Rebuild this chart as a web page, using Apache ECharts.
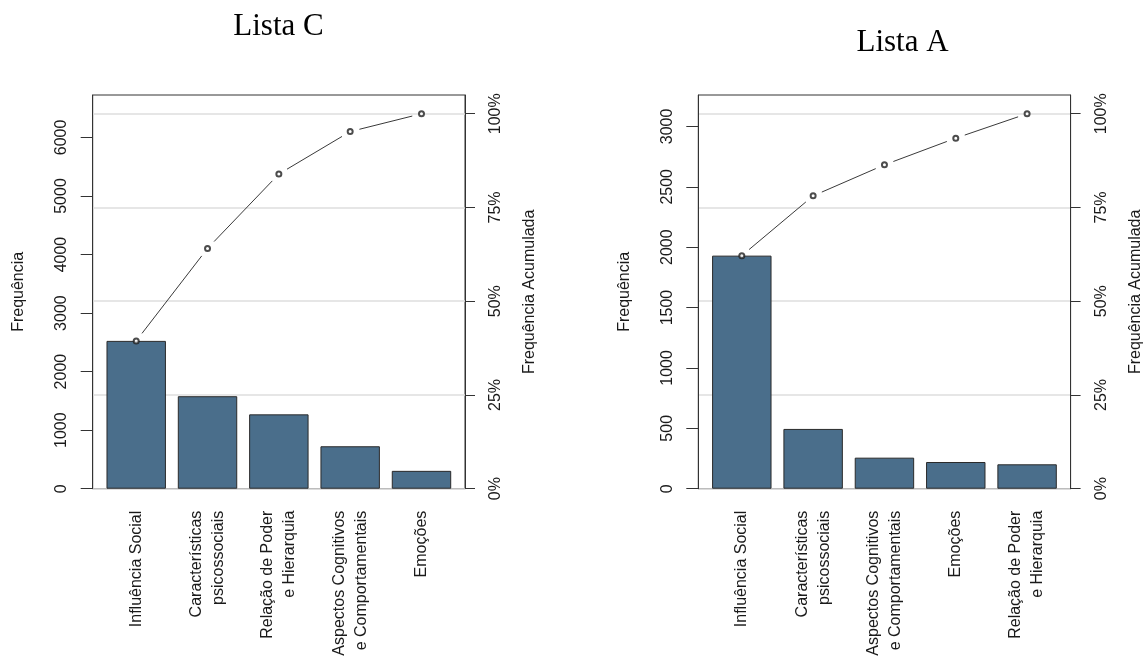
<!DOCTYPE html>
<html>
<head>
<meta charset="utf-8">
<title>Pareto – Listas C e A</title>
<script src="https://cdn.jsdelivr.net/npm/echarts@6/dist/echarts.min.js"></script>
<style>
  html, body { margin: 0; padding: 0; background: #ffffff; }
  #chart { width: 1144px; height: 670px; }
</style>
</head>
<body>
<div id="chart"></div>
<script>
// ---- data -------------------------------------------------------------
const panelTitles = ['Lista C', 'Lista A'];

const categoriesC = [
  'Influência Social',
  'Características\npsicossociais',
  'Relação de Poder\ne Hierarquia',
  'Aspectos Cognitivos\ne Comportamentais',
  'Emoções'
];
const frequencyC = [2525, 1580, 1270, 725, 305];
const freqTicksC = [0, 1000, 2000, 3000, 4000, 5000, 6000];

const categoriesA = [
  'Influência Social',
  'Características\npsicossociais',
  'Aspectos Cognitivos\ne Comportamentais',
  'Emoções',
  'Relação de Poder\ne Hierarquia'
];
const frequencyA = [1930, 495, 257, 221, 202];
const freqTicksA = [0, 500, 1000, 1500, 2000, 2500, 3000];

const pctTicks = [0, 25, 50, 75, 100];

// ---- styling / layout -------------------------------------------------
const SANS = '"Liberation Sans", Arial, sans-serif';
const SERIF = '"Liberation Serif", "Times New Roman", serif';
const TEXT = '#1a1a1a';
const AXIS = '#333333';
const BAR_FILL = '#4a6e8b';
const BAR_EDGE = '#2a2a2a';
const GRID_LINE = '#dedede';

const frameTop = 95;
const frameHeight = 393.7;
const frameWidth = 372.3;
const frameLefts = [92.7, 698.3];
const titleCenters = [[278.5, 26.8], [902.5, 42.8]];
// bar slots: bar width 1, gap 0.2, range [0.2, 6.0] widened by 4% on each side
const slotPad = frameWidth * 0.132 / 6.264;
const POINT_GAP = 9.5;

function cumulative(values) {
  let s = 0;
  return values.map(v => (s += v));
}

function gapSegments(cum) {
  return function (params, api) {
    const i = params.dataIndex;
    if (i >= cum.length - 1) return null;
    const a = api.coord([i, cum[i]]);
    const b = api.coord([i + 1, cum[i + 1]]);
    const dx = b[0] - a[0], dy = b[1] - a[1];
    const d = Math.hypot(dx, dy);
    const ux = dx / d, uy = dy / d;
    return {
      type: 'line',
      shape: {
        x1: a[0] + ux * POINT_GAP, y1: a[1] + uy * POINT_GAP,
        x2: b[0] - ux * POINT_GAP, y2: b[1] - uy * POINT_GAP
      },
      style: { stroke: '#3a3a3a', lineWidth: 1 }
    };
  };
}

const panels = [
  { cats: categoriesC, freq: frequencyC, ticks: freqTicksC, step: 1000 },
  { cats: categoriesA, freq: frequencyA, ticks: freqTicksA, step: 500 }
];

const grid = [], xAxis = [], yAxis = [], series = [], graphic = [];

panels.forEach((p, k) => {
  const total = p.freq.reduce((a, b) => a + b, 0);
  const top = total * 1.05;
  const cum = cumulative(p.freq);
  const frameGrid = grid.length;
  const left = frameLefts[k];

  // outer frame carrying both value axes
  grid.push({
    left: left, top: frameTop, width: frameWidth, height: frameHeight,
    show: true, borderColor: AXIS, borderWidth: 1, backgroundColor: 'transparent',
    containLabel: false, outerBoundsMode: 'none'
  });
  // inner band grid for the bars
  grid.push({
    left: left + slotPad, top: frameTop, width: frameWidth - 2 * slotPad, height: frameHeight,
    show: false, containLabel: false, outerBoundsMode: 'none'
  });
  const innerGrid = frameGrid + 1;

  xAxis.push({ gridIndex: frameGrid, type: 'value', min: 0, max: 1, show: false });
  const catAxis = xAxis.length;
  xAxis.push({
    gridIndex: innerGrid, type: 'category', data: p.cats, boundaryGap: true,
    axisLine: { show: false }, axisTick: { show: false }, splitLine: { show: false },
    axisLabel: {
      interval: 0, rotate: 90, margin: 22, fontSize: 16, lineHeight: 22,
      color: TEXT, fontFamily: SANS, hideOverlap: false
    }
  });

  yAxis.push({
    gridIndex: frameGrid, type: 'value', position: 'left',
    min: 0, max: top, interval: p.step,
    name: 'Frequência', nameLocation: 'middle', nameRotate: 90, nameGap: 66,
    nameTextStyle: { fontSize: 16, color: TEXT, fontFamily: SANS },
    axisLine: { show: true, lineStyle: { color: AXIS, width: 1 } },
    axisTick: { show: true, length: 12, customValues: p.ticks, lineStyle: { color: AXIS, width: 1 } },
    axisLabel: {
      customValues: p.ticks, rotate: 90, margin: 23,
      fontSize: 16, color: TEXT, fontFamily: SANS, hideOverlap: false,
      formatter: v => String(Math.round(v))
    },
    splitLine: { show: false }
  });
  yAxis.push({
    gridIndex: frameGrid, type: 'value', position: 'right',
    min: 0, max: 105, interval: 25,
    name: 'Frequência Acumulada', nameLocation: 'middle', nameRotate: 90, nameGap: 57,
    nameTextStyle: { fontSize: 16, color: TEXT, fontFamily: SANS },
    axisLine: { show: true, lineStyle: { color: AXIS, width: 1 } },
    axisTick: { show: true, length: 10, customValues: pctTicks, lineStyle: { color: AXIS, width: 1 } },
    axisLabel: {
      customValues: pctTicks, rotate: 90, margin: 23,
      fontSize: 16, color: TEXT, fontFamily: SANS, hideOverlap: false,
      formatter: v => Math.round(v) + '%'
    },
    splitLine: { show: true, lineStyle: { color: GRID_LINE, width: 1.5 } }
  });
  const valAxis = yAxis.length;
  yAxis.push({ gridIndex: innerGrid, type: 'value', min: 0, max: top, show: false });

  series.push({
    type: 'bar', xAxisIndex: catAxis, yAxisIndex: valAxis,
    data: p.freq, barWidth: '83.33%',
    itemStyle: { color: BAR_FILL, borderColor: BAR_EDGE, borderWidth: 1 },
    emphasis: { disabled: true }, silent: true, z: 2
  });
  series.push({
    type: 'custom', xAxisIndex: catAxis, yAxisIndex: valAxis,
    data: cum.map((v, i) => [i, v]), encode: { x: 0, y: 1 },
    renderItem: gapSegments(cum), silent: true, z: 3
  });
  series.push({
    type: 'scatter', xAxisIndex: catAxis, yAxisIndex: valAxis,
    data: cum.map((v, i) => [i, v]),
    symbol: 'emptyCircle', symbolSize: 5,
    itemStyle: { color: '#1f1f1f', borderColor: '#1f1f1f', borderWidth: 0.9 },
    emphasis: { disabled: true }, silent: true, z: 4
  });

  graphic.push({
    type: 'text', x: titleCenters[k][0], y: titleCenters[k][1], silent: true,
    style: {
      text: panelTitles[k], fill: '#000', fontSize: 31, fontFamily: SERIF,
      align: 'center', verticalAlign: 'middle'
    }
  });
});

const chart = echarts.init(document.getElementById('chart'), null, { renderer: 'canvas' });
chart.setOption({
  animation: false,
  backgroundColor: '#ffffff',
  textStyle: { fontFamily: SANS },
  grid, xAxis, yAxis, series, graphic
});
</script>
</body>
</html>
